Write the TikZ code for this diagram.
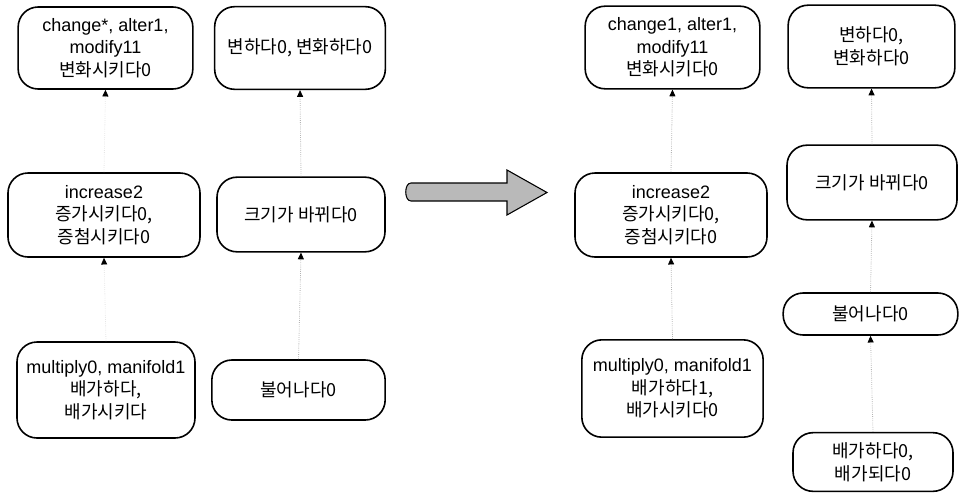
\documentclass[tikz,border=0pt]{standalone}
\usepackage{fontspec}
\setmainfont{Liberation Sans}
\newfontfamily\kr{Noto Sans CJK KR}
\usepackage{tikz}
\usetikzlibrary{arrows.meta}

\begin{document}
\begin{tikzpicture}[x=0.75pt, y=-0.75pt,
    box/.style={draw, line width=1.2pt, rounded corners=15pt, align=center,
      inner sep=0pt, font=\fontsize{13.5}{17}\selectfont},
    link/.style={gray!60, densely dotted, line width=0.6pt,
      -{Triangle[black, length=5pt, width=4.5pt]}},
    faintlink/.style={link, gray!20}]
                        \useasboundingbox (0,0) rectangle (959,493);

                        % Left picture, first column
                        \node (A1) at (105.5,48) [box, minimum width=131pt, minimum height=61.5pt]
                          {change*, alter1,\\ modify11\\ {\kr 변화시키다0}};
                        \node (A3) at (104,215) [box, minimum width=144pt, minimum height=63pt]
                          {increase2\\ {\kr 증가시키다0,}\\ {\kr 증첨시키다0}};
                        \node (A5) at (106,390) [box, minimum width=133.5pt, minimum height=72pt]
                          {multiply0, manifold1\\ {\kr 배가하다,}\\ {\kr 배가시키다}};

                        % Left picture, second column
                        \node (A2) at (300,48) [box, minimum width=128pt, minimum height=62pt]
                          {{\kr 변하다0, 변화하다0}};
                        \node (A4) at (301,214.5) [box, minimum width=126pt, minimum height=56pt]
                          {{\kr 크기가 바뀌다0}};
                        \node (A6) at (298.5,390) [box, minimum width=130pt, minimum height=45pt]
                          {{\kr 불어나다0}};

                        % Drawing links of left picture
                        \draw [faintlink] (A3.north) -- (A1.south);%
                        \draw [faintlink] (A5.north) -- (A3.south);%
                        \draw [link] (A4.north) -- (A2.south);%
                        \draw [link] (A6.north) -- (A4.south);%

                        % Drawing big arrow
                        \draw [line width=0.8pt, fill=gray!55] (411,183) -- (507,183) -- (507,170) -- (547,192.5)
                          -- (507,215) -- (507,201) -- (411,201) to[out=180,in=180] (411,183) -- cycle;%

                        % Right picture, first column
                        \node (B1) at (672.5,47.5) [box, minimum width=131pt, minimum height=62pt]
                          {change1, alter1,\\ modify11\\ {\kr 변화시키다0}};
                        \node (C2) at (671,215) [box, minimum width=144pt, minimum height=63pt]
                          {increase2\\ {\kr 증가시키다0,}\\ {\kr 증첨시키다0}};
                        \node (C3) at (672.5,388.5) [box, minimum width=136pt, minimum height=73pt]
                          {multiply0, manifold1\\ {\kr 배가하다1,}\\ {\kr 배가시키다0}};

                        % Right picture, second column
                        \node (B2) at (871.5,46.5) [box, minimum width=125pt, minimum height=62pt]
                          {{\kr 변하다0,}\\ {\kr 변화하다0}};
                        \node (B3) at (872,182.5) [box, minimum width=127.5pt, minimum height=56pt]
                          {{\kr 크기가 바뀌다0}};
                        \node (B4) at (870.5,314) [box, minimum width=131pt, minimum height=31.5pt]
                          {{\kr 불어나다0}};
                        \node (B5) at (873,462) [box, minimum width=120pt, minimum height=44pt]
                          {{\kr 배가하다0,}\\ {\kr 배가되다0}};

                        % Drawing links of right picture
                        \draw [link] (C2.north) -- (B1.south);%
                        \draw [link] (C3.north) -- (C2.south);%
                        \draw [link] (B3.north) -- (B2.south);%
                        \draw [link] (B4.north) -- (B3.south);%
                        \draw [link] (B5.north) -- (B4.south);%
\end{tikzpicture}
\end{document}
